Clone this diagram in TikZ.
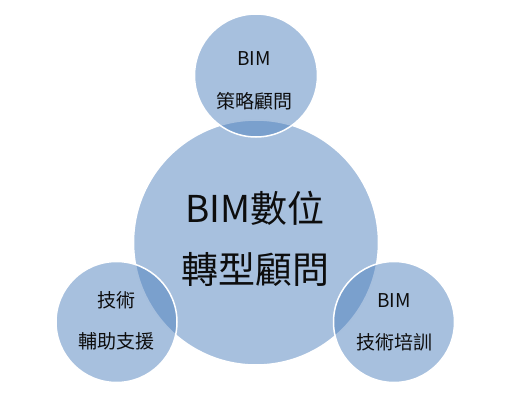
\documentclass[tikz,border=0pt]{standalone}
\usepackage{fontspec}
\setmainfont{Noto Sans CJK TC}
\definecolor{accentblue}{HTML}{4F81BD}
\tikzset{
  bubble/.style={circle, draw=white, line width=1.5pt, fill=accentblue,
    fill opacity=0.5, draw opacity=1, inner sep=0pt},
  bigtext/.style={font=\fontsize{37}{44}\selectfont, inner sep=0pt, text=black!95},
  smalltext/.style={font=\fontsize{19}{23}\selectfont, inner sep=0pt, text=black!95}
}
\begin{document}
\begin{tikzpicture}[x=1pt,y=-1pt]
  \useasboundingbox (0,0) rectangle (515,407);
  % circles
  \node[bubble, minimum size=245pt] (core) at (256,242.5) {};
  \node[bubble, minimum size=123pt] (strategy) at (256,75.5) {};
  \node[bubble, minimum size=121pt] (support) at (116.5,322) {};
  \node[bubble, minimum size=121pt] (training) at (394,322) {};
  % texts
  \node[bigtext] (coreA) at (255,208) {BIM數位};
  \node[bigtext] (coreB) at (255,269) {轉型顧問};
  \node[smalltext] (strategyA) at (254,59) {BIM};
  \node[smalltext] (strategyB) at (254,101) {策略顧問};
  \node[smalltext] (supportA) at (116,300) {技術};
  \node[smalltext] (supportB) at (116,341) {輔助支援};
  \node[smalltext] (trainingA) at (394,301) {BIM};
  \node[smalltext] (trainingB) at (394,342) {技術培訓};
\end{tikzpicture}
\end{document}
